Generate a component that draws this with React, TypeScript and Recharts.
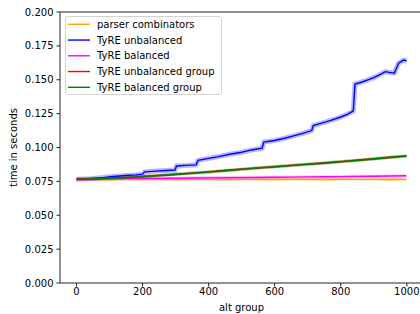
import React from 'react';
import { LineChart, Line, XAxis, YAxis, Legend, ReferenceLine } from 'recharts';

// ---- data ----
const ALT_X = [0, 50, 100, 150, 200, 250, 300, 350, 400, 450, 500, 550, 600, 650, 700, 750, 800, 850, 900, 950, 999];

const parserCombinators = [0.0765, 0.0765, 0.0764, 0.0765, 0.0764, 0.0765, 0.0764, 0.0765, 0.0765, 0.0764, 0.0765, 0.0765, 0.0764, 0.0765, 0.0765, 0.0764, 0.0765, 0.0765, 0.0765, 0.0764, 0.0765];
const tyreBalanced = [0.0766, 0.0767, 0.0768, 0.0770, 0.0771, 0.0772, 0.0773, 0.0775, 0.0776, 0.0777, 0.0778, 0.0779, 0.0780, 0.0781, 0.0783, 0.0784, 0.0785, 0.0787, 0.0788, 0.0790, 0.0792];
const tyreUnbalancedGroup = [0.0766, 0.0769, 0.0773, 0.0778, 0.0786, 0.0794, 0.0802, 0.0811, 0.0820, 0.0830, 0.0840, 0.0850, 0.0858, 0.0868, 0.0877, 0.0886, 0.0896, 0.0906, 0.0917, 0.0928, 0.0938];
const tyreBalancedGroup = [0.0766, 0.0768, 0.0772, 0.0778, 0.0785, 0.0793, 0.0802, 0.0810, 0.0819, 0.0829, 0.0840, 0.0849, 0.0858, 0.0867, 0.0876, 0.0885, 0.0895, 0.0905, 0.0916, 0.0927, 0.0937];

const UNBAL_X = [0, 40, 80, 110, 150, 180, 200, 206, 240, 270, 298, 303, 330, 362, 368, 400, 430, 460, 500, 530, 562, 567, 600, 630, 660, 690, 712, 717, 740, 770, 800, 820, 838, 843, 860, 880, 900, 920, 935, 950, 962, 975, 990, 999];
const tyreUnbalanced = [0.0766, 0.0770, 0.0778, 0.0786, 0.0793, 0.0798, 0.0803, 0.0820, 0.0826, 0.0830, 0.0834, 0.0864, 0.0868, 0.0872, 0.0905, 0.0920, 0.0933, 0.0948, 0.0965, 0.0982, 0.0995, 0.1040, 0.1052, 0.1068, 0.1088, 0.1108, 0.1125, 0.1162, 0.1178, 0.1200, 0.1225, 0.1245, 0.1270, 0.1468, 0.1480, 0.1497, 0.1515, 0.1540, 0.1560, 0.1553, 0.1548, 0.1622, 0.1645, 0.1640];

const SERIES_NAMES = ['parser combinators', 'TyRE unbalanced', 'TyRE balanced', 'TyRE unbalanced group', 'TyRE balanced group'];
const X_TICKS = [0, 200, 400, 600, 800, 1000];
const Y_TICKS = [0, 0.025, 0.05, 0.075, 0.1, 0.125, 0.15, 0.175, 0.2];

// ---- styles ----
const COLORS = ['#ffa500', '#0000ff', '#ff00ff', '#ff0000', '#008000'];
const FONT = 'DejaVu Sans, sans-serif';
const FS = 10;

const commonData = ALT_X.map((x, i) => ({
  x,
  pc: parserCombinators[i],
  bal: tyreBalanced[i],
  ubg: tyreUnbalancedGroup[i],
  bg: tyreBalancedGroup[i],
}));
const unbalancedData = UNBAL_X.map((x, i) => ({ x, ub: tyreUnbalanced[i] }));

const LegendBox = () => (
  <div
    style={{
      position: 'relative',
      width: 157,
      height: 79,
      boxSizing: 'border-box',
      border: '1px solid #d3d3d3',
      borderRadius: 3,
      background: 'rgba(255,255,255,0.8)',
      fontFamily: FONT,
      fontSize: FS,
      color: '#000',
    }}
  >
    <svg width={30} height={79} style={{ position: 'absolute', left: -1, top: -1 }}>
      {SERIES_NAMES.map((name, i) => {
        const cy = 8.3 + i * 15.75;
        return <line key={name} x1={3} x2={25} y1={cy} y2={cy} stroke={COLORS[i]} strokeWidth={1.4} />;
      })}
    </svg>
    {SERIES_NAMES.map((name, i) => {
      const cy = 7.3 + i * 15.75;
      return (
        <div key={name} style={{ position: 'absolute', left: 31, top: cy - 6.5, lineHeight: '13px', whiteSpace: 'nowrap' }}>
          {name}
        </div>
      );
    })}
  </div>
);

const YLabel = () => (
  <text
    x={13}
    y={147.5}
    transform="rotate(-90,13,147.5)"
    textAnchor="middle"
    dominantBaseline="central"
    fontFamily={FONT}
    fontSize={FS}
    fill="#000"
  >
    time in seconds
  </text>
);

export default function App() {
  const tick = { fontSize: FS, fill: '#000', fontFamily: FONT };
  return (
    <div style={{ position: 'absolute', left: 0, top: 0, width: 420, height: 314, overflow: 'hidden', background: '#fff' }}>
      <LineChart width={430} height={314} data={commonData} margin={{ top: 12, right: 7, bottom: 0, left: 0 }}>
        <XAxis
          dataKey="x"
          type="number"
          domain={[-50, 1049]}
          allowDataOverflow
          ticks={X_TICKS}
          height={31}
          tickSize={3.5}
          tickMargin={1.5}
          tick={tick}
          stroke="#222"
          label={{ value: 'alt group', position: 'insideBottom', offset: 3.5, style: { fontFamily: FONT, fontSize: FS, fill: '#000' } }}
        />
        <YAxis
          type="number"
          domain={[0, 0.2]}
          allowDataOverflow
          ticks={Y_TICKS}
          width={60}
          tickSize={3.5}
          tickMargin={3}
          tick={tick}
          stroke="#222"
          tickFormatter={(v: number) => v.toFixed(3)}
          label={<YLabel />}
        />
        <ReferenceLine y={0.2} stroke="#222" strokeWidth={1} ifOverflow="visible" />
        <ReferenceLine x={1049} stroke="#222" strokeWidth={1} ifOverflow="visible" />

        {/* translucent variation bands */}
        <Line dataKey="pc" stroke={COLORS[0]} strokeOpacity={0.3} strokeWidth={3} dot={false} isAnimationActive={false} legendType="none" />
        <Line data={unbalancedData} dataKey="ub" stroke={COLORS[1]} strokeOpacity={0.28} strokeWidth={5} dot={false} isAnimationActive={false} legendType="none" />
        <Line dataKey="bal" stroke={COLORS[2]} strokeOpacity={0.3} strokeWidth={3} dot={false} isAnimationActive={false} legendType="none" />
        <Line dataKey="ubg" stroke={COLORS[3]} strokeOpacity={0.3} strokeWidth={3} dot={false} isAnimationActive={false} legendType="none" />
        <Line dataKey="bg" stroke={COLORS[4]} strokeOpacity={0.3} strokeWidth={3} dot={false} isAnimationActive={false} legendType="none" />

        {/* mean lines */}
        <Line dataKey="pc" name={SERIES_NAMES[0]} stroke={COLORS[0]} strokeWidth={1.4} dot={false} isAnimationActive={false} />
        <Line data={unbalancedData} dataKey="ub" name={SERIES_NAMES[1]} stroke={COLORS[1]} strokeWidth={1.4} dot={false} isAnimationActive={false} />
        <Line dataKey="bal" name={SERIES_NAMES[2]} stroke={COLORS[2]} strokeWidth={1.4} dot={false} isAnimationActive={false} />
        <Line dataKey="ubg" name={SERIES_NAMES[3]} stroke={COLORS[3]} strokeWidth={1.4} dot={false} isAnimationActive={false} />
        <Line dataKey="bg" name={SERIES_NAMES[4]} stroke={COLORS[4]} strokeWidth={1.6} dot={false} isAnimationActive={false} />

        <Legend
          layout="vertical"
          verticalAlign="middle"
          align="center"
          content={() => <LegendBox />}
          wrapperStyle={{ left: 65, top: 16, width: 157, height: 79 }}
        />
      </LineChart>
    </div>
  );
}
